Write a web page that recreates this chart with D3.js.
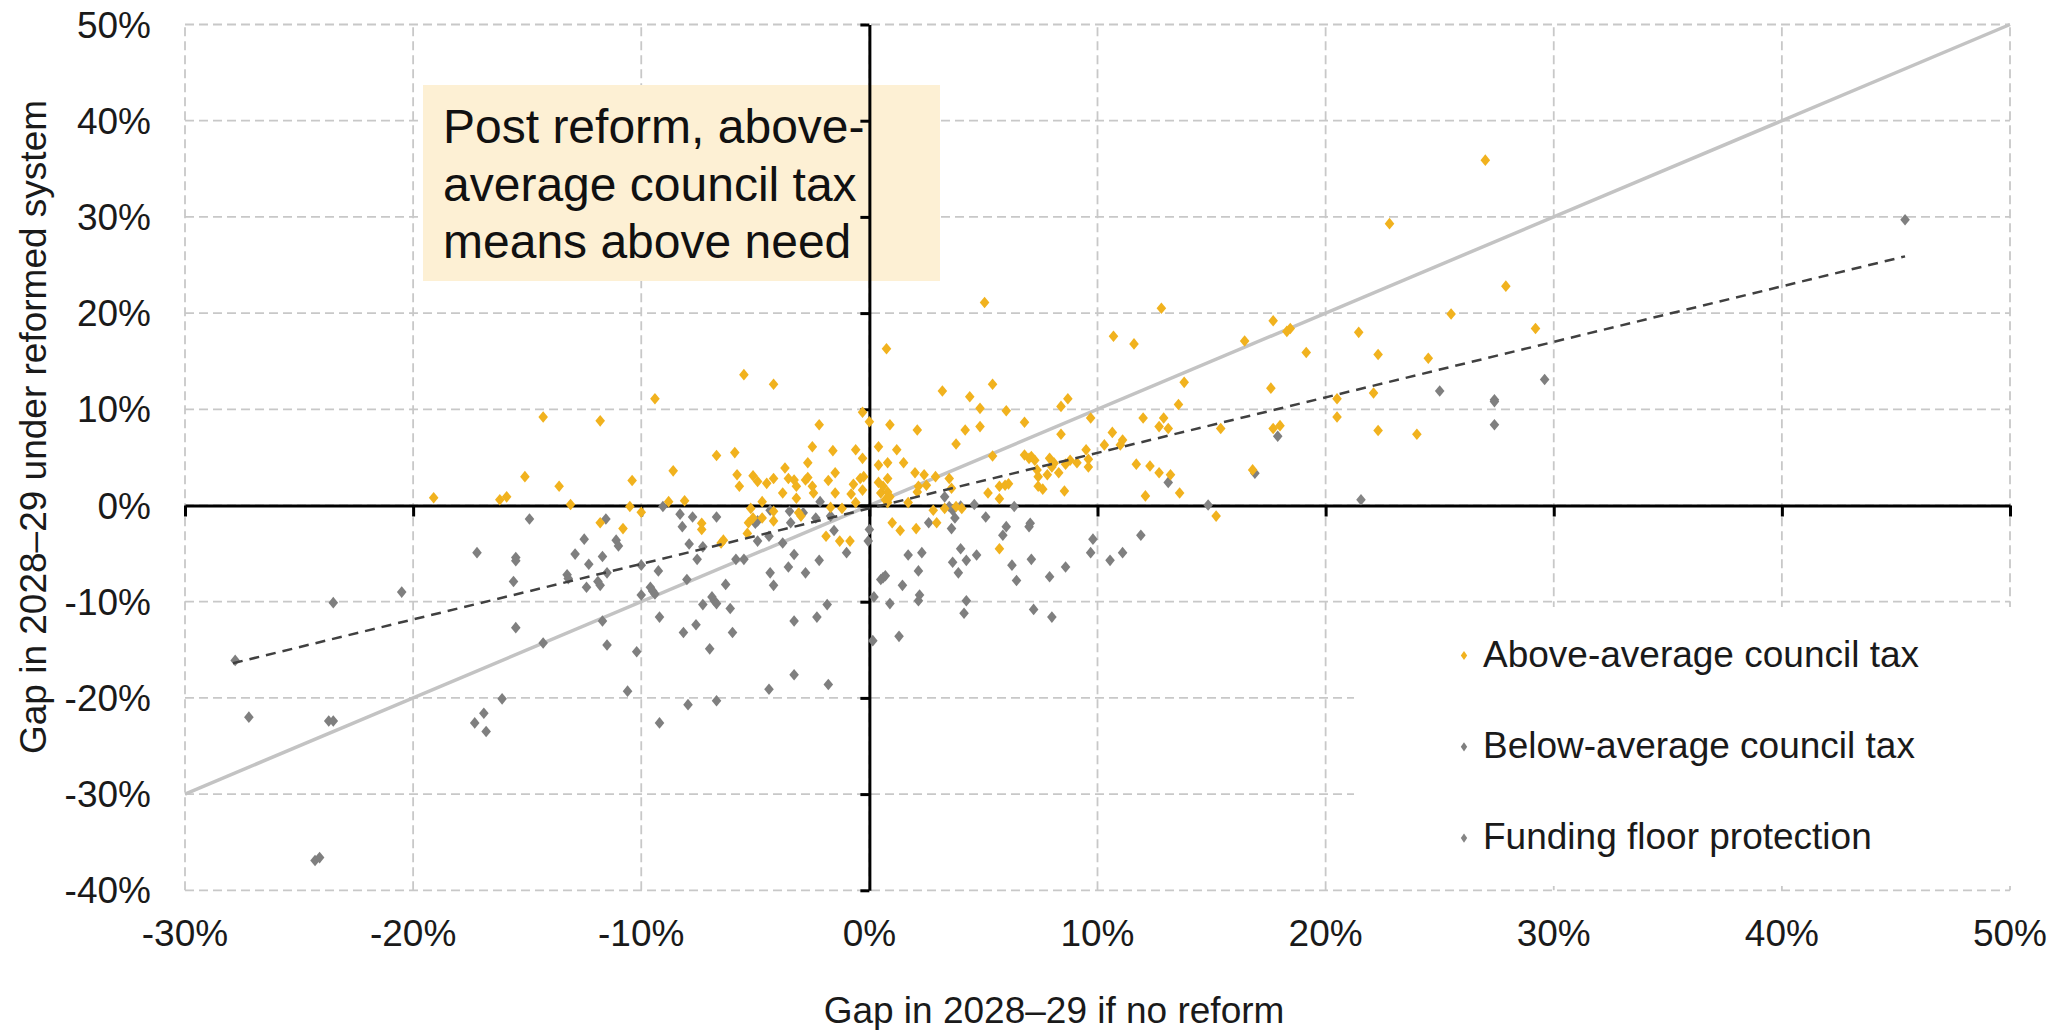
<!DOCTYPE html>
<html>
<head>
<meta charset="utf-8">
<script src="https://cdn.jsdelivr.net/npm/d3@7"></script>
<style>
  html, body { margin: 0; padding: 0; background: #fff; }
  svg { display: block; }
  text { font-family: "Liberation Sans", Arial, sans-serif; }
</style>
</head>
<body>
<svg id="chart" width="2060" height="1030"></svg>
<script>
// ---------------- DATA ----------------
const xTicks = [-30, -20, -10, 0, 10, 20, 30, 40, 50];
const yTicks = [-40, -30, -20, -10, 0, 10, 20, 30, 40, 50];
const xTitle = "Gap in 2028\u201329 if no reform";
const yTitle = "Gap in 2028\u201329 under reformed system";
const annotationLines = ["Post reform, above-", "average council tax", "means above need"];
const seriesNames = ["Above-average council tax", "Below-average council tax", "Funding floor protection"];

// [gap if no reform %, gap under reformed system %]
const aboveAverage = [
  [-19.1,0.8],[-16.2,0.6],[-15.9,0.9],[-15.1,3.0],[-14.3,9.2],[-13.6,2.0],[-13.1,0.1],[-11.8,8.8],
  [-11.8,-1.8],[-10.8,-2.4],[-10.4,2.6],[-10.5,-0.1],[-10.0,-0.7],[-9.4,11.1],[-8.6,3.6],[-8.8,0.4],
  [-8.1,0.5],[-7.35,-1.85],[-7.35,-2.5],[-6.5,-3.9],[-6.4,-3.6],[-6.7,5.2],[-5.9,5.5],[-5.5,13.6],
  [-5.8,3.2],[-5.7,2.0],[-5.2,-0.3],[-5.3,-1.8],[-5.1,-1.3],[-5.35,-2.9],[-5.1,3.1],[-4.9,2.5],
  [-4.7,0.4],[-4.7,-1.3],[-4.5,2.3],[-4.2,2.8],[-4.2,12.6],[-4.2,-1.6],[-4.2,-0.6],[-3.7,3.9],
  [-3.8,1.3],[-3.55,2.8],[-3.3,2.65],[-3.2,2.0],[-3.2,0.75],[-3.1,-0.75],[-3.0,-1.1],[-2.8,2.65],
  [-2.7,2.9],[-2.7,4.45],[-2.5,6.1],[-2.5,2.0],[-2.45,1.3],[-2.2,8.4],[-1.9,-3.2],[-1.8,2.6],
  [-1.7,-0.2],[-1.6,5.7],[-1.5,3.4],[-1.5,1.3],[-1.3,-3.7],[-1.2,-0.3],[-0.85,-3.7],[-0.8,1.2],
  [-0.7,2.2],[-0.6,5.8],[-0.6,0.3],[-0.4,2.8],[-0.3,9.7],[-0.3,4.9],[-0.3,1.6],[-0.25,3.0],
  [0.0,8.7],[0.4,6.1],[0.4,4.2],[0.4,2.4],[0.5,1.3],[0.6,2.0],[0.7,0.6],[0.75,16.3],
  [0.8,1.4],[0.8,4.45],[0.8,2.8],[0.8,0.3],[0.9,8.4],[0.9,0.9],[1.0,-1.8],[1.2,5.8],
  [1.35,-2.6],[1.5,4.45],[1.7,0.3],[2.0,3.4],[2.05,-2.4],[2.1,1.4],[2.15,2.0],[2.1,7.85],
  [2.4,3.2],[2.5,2.1],[2.8,-0.5],[2.9,3.0],[2.95,-1.8],[3.2,11.9],[3.3,-0.3],[3.5,2.8],
  [3.6,1.8],[3.8,6.4],[3.8,-0.1],[4.05,-0.3],[4.2,7.85],[4.4,11.3],[4.85,10.1],[4.85,8.2],
  [5.05,21.1],[5.2,1.3],[5.4,12.6],[5.4,5.15],[5.7,2.0],[5.7,0.7],[5.7,-4.5],[5.95,2.1],
  [6.0,9.85],[6.1,2.25],[6.8,8.65],[6.8,5.25],[7.0,4.9],[7.1,5.1],[7.25,4.7],[7.35,3.7],
  [7.4,3.0],[7.4,2.0],[7.6,1.7],[7.8,3.2],[7.9,4.9],[8.0,4.0],[8.1,4.4],[8.3,3.4],
  [8.4,7.4],[8.4,10.3],[8.55,1.5],[8.6,4.3],[8.7,11.1],[8.8,4.7],[9.1,4.45],[9.5,5.8],
  [9.6,4.8],[9.6,4.0],[9.7,9.1],[10.3,6.3],[10.65,7.6],[10.7,17.6],[11.0,6.3],[11.1,6.8],
  [11.6,16.8],[11.7,4.3],[12.0,9.1],[12.1,1.0],[12.3,4.1],[12.7,8.2],[12.7,3.4],[12.8,20.5],
  [12.9,9.1],[13.1,8.0],[13.2,3.2],[13.55,10.5],[13.6,1.3],[13.8,12.8],[15.2,-1.1],[15.4,8.0],
  [16.45,17.1],[16.8,3.7],[17.6,12.2],[17.7,19.2],[17.7,8.0],[18.0,8.3],[18.3,18.1],[18.45,18.4],
  [19.15,15.9],[20.5,11.1],[20.5,9.2],[21.45,18.0],[22.1,11.7],[22.3,15.7],[22.3,7.8],[22.8,29.3],
  [24.0,7.4],[24.5,15.3],[25.5,19.9],[27.0,35.9],[27.9,22.8],[29.2,18.4]
];

const belowAverage = [
  [-27.8,-16.1],[-27.2,-22.0],[-24.3,-36.9],[-24.1,-36.6],[-23.7,-22.4],[-23.5,-22.4],[-23.5,-10.1],[-20.5,-9.0],
  [-17.3,-22.6],[-17.2,-4.9],[-16.9,-21.6],[-16.8,-23.5],[-16.1,-20.1],[-15.6,-7.9],[-15.5,-5.4],[-15.5,-5.75],
  [-15.5,-12.7],[-14.9,-1.4],[-14.3,-14.3],[-13.25,-7.2],[-13.2,-7.6],[-12.9,-5.05],[-12.5,-3.5],[-12.4,-8.5],
  [-12.3,-6.1],[-11.9,-7.9],[-11.8,-8.3],[-11.7,-5.3],[-11.7,-12.0],[-11.55,-1.4],[-11.5,-7.0],[-11.5,-14.5],
  [-11.1,-3.6],[-11.0,-4.2],[-10.6,-19.3],[-10.2,-15.2],[-10.0,-6.2],[-10.0,-9.3],[-9.6,-8.5],[-9.5,-8.9],
  [-9.4,-9.2],[-9.25,-6.8],[-9.2,-11.6],[-9.2,-22.6],[-9.05,-0.1],[-8.3,-0.9],[-8.2,-2.2],[-8.15,-13.2],
  [-8.0,-7.7],[-7.95,-20.7],[-7.9,-4.0],[-7.75,-1.2],[-7.6,-12.4],[-7.55,-5.6],[-7.3,-4.3],[-7.3,-10.3],
  [-7.0,-14.9],[-6.9,-9.5],[-6.8,-9.9],[-6.7,-10.2],[-6.7,-1.2],[-6.7,-20.3],[-6.3,-8.2],[-6.1,-10.7],
  [-6.0,-13.2],[-5.85,-5.6],[-5.5,-5.6],[-5.0,-1.85],[-4.9,-1.6],[-4.9,-3.7],[-4.4,-19.1],[-4.4,-3.2],
  [-4.35,-7.0],[-4.35,-0.5],[-4.2,-8.3],[-3.8,-3.9],[-3.55,-6.4],[-3.5,-0.6],[-3.45,-1.8],[-3.3,-5.1],
  [-3.3,-12.0],[-3.3,-17.6],[-2.9,-0.75],[-2.8,-7.0],[-2.35,-1.3],[-2.3,-11.6],[-2.2,-5.7],[-2.16,0.4],
  [-1.85,-10.3],[-1.8,-18.6],[-1.7,-1.1],[-1.55,-2.6],[-1.0,-4.9],[0.0,-2.5],[-0.05,-3.7],[0.15,-14.05],
  [0.2,-9.5],[0.5,-7.7],[0.6,-7.5],[0.7,-7.3],[0.9,-10.2],[1.3,-13.6],[1.45,-8.3],[1.7,-5.15],
  [2.15,-6.8],[2.2,-9.3],[2.15,-9.9],[2.3,-4.9],[2.6,-1.8],[3.3,0.9],[3.65,-0.5],[3.6,-2.4],
  [3.65,-5.9],[3.75,-1.3],[3.9,-7.0],[4.0,-4.5],[4.15,-11.2],[4.25,-5.7],[4.25,-9.9],[4.7,-5.15],
  [5.1,-1.2],[5.85,-3.1],[6.0,-2.2],[6.25,-6.2],[6.45,-7.8],[7.0,-2.2],[7.05,-1.85],[7.1,-5.6],
  [7.2,-10.8],[7.9,-7.4],[8.0,-11.6],[8.6,-6.4],[9.7,-4.9],[9.8,-3.5],[10.55,-5.7],[11.1,-4.9],
  [11.9,-3.1],[13.1,2.4],[16.9,3.35],[17.9,7.2],[25.0,11.9],[27.4,11.0],[27.4,10.8],[27.4,8.4],
  [29.6,13.1],[45.4,29.7]
];

const fundingFloor = [
  [3.5,-0.1],[4.0,-0.05],[4.6,0.1],[6.35,-0.1],[14.85,0.05],[21.55,0.6]
];

// equality line and linear trend line end points
const equalityLine = [[-30,-30],[50,50]];
const trendLine = [[-27.9,-16.4],[45.4,25.9]];

// ---------------- CHART ----------------
const svg = d3.select("#chart");
const plotLeft = 185, plotRight = 2010, plotTop = 24.5, plotBottom = 890.3;

const x = d3.scaleLinear().domain([-30, 50]).range([plotLeft, plotRight]);
const y = d3.scaleLinear().domain([-40, 50]).range([plotBottom, plotTop]);

const orange = "#F1B21E";
const grey = "#7F7F7F";
const greyFloor = "#858585";
const fontSmall = 37;

// gridlines
const grid = svg.append("g");
grid.selectAll("line.v").data(xTicks).enter().append("line").attr("class", "v")
  .attr("x1", d => x(d)).attr("x2", d => x(d))
  .attr("y1", y(-40)).attr("y2", y(50))
  .attr("stroke", "#c8c8c8").attr("stroke-width", 1.8).attr("stroke-dasharray", "9,5");
grid.selectAll("line.h").data(yTicks).enter().append("line").attr("class", "h")
  .attr("x1", x(-30)).attr("x2", x(50))
  .attr("y1", d => y(d)).attr("y2", d => y(d))
  .attr("stroke", "#c8c8c8").attr("stroke-width", 1.8).attr("stroke-dasharray", "9,5");

// annotation box
svg.append("rect").attr("x", 423).attr("y", 85).attr("width", 517).attr("height", 196)
  .attr("fill", "#FDF0D4");
svg.append("g").selectAll("text").data(annotationLines).enter().append("text")
  .attr("x", 443).attr("y", (d, i) => 143 + i * 57.5)
  .attr("font-size", 48).attr("fill", "#111").text(d => d);

// legend background
svg.append("rect").attr("x", 1354).attr("y", 607).attr("width", 662).attr("height", 279)
  .attr("fill", "#fff");

// equality line
const line = d3.line().x(d => x(d[0])).y(d => y(d[1]));
svg.append("path").datum(equalityLine).attr("d", line)
  .attr("fill", "none").attr("stroke", "#c3c3c3").attr("stroke-width", 3.5);

// axes
const xAxis = d3.axisBottom(x).tickValues(xTicks).tickSize(11).tickSizeOuter(0).tickFormat("");
const gx = svg.append("g").attr("transform", `translate(0,${y(0)})`).call(xAxis);
gx.select(".domain").attr("stroke", "#000").attr("stroke-width", 3);
gx.selectAll(".tick line").attr("stroke", "#000").attr("stroke-width", 3);

const yAxis = d3.axisLeft(y).tickValues(yTicks).tickSize(9).tickSizeOuter(0).tickFormat("");
const gy = svg.append("g").attr("transform", `translate(${x(0)},0)`).call(yAxis);
gy.select(".domain").attr("stroke", "#000").attr("stroke-width", 3);
gy.selectAll(".tick line").attr("stroke", "#000").attr("stroke-width", 3);

// tick labels
svg.append("g").selectAll("text").data(xTicks).enter().append("text")
  .attr("x", d => x(d)).attr("y", 946).attr("text-anchor", "middle")
  .attr("font-size", fontSmall).attr("fill", "#1a1a1a").text(d => d + "%");
svg.append("g").selectAll("text").data(yTicks).enter().append("text")
  .attr("x", 151).attr("y", d => y(d) + 13).attr("text-anchor", "end")
  .attr("font-size", fontSmall).attr("fill", "#1a1a1a").text(d => d + "%");

// axis titles
svg.append("text").attr("x", 1054).attr("y", 1023).attr("text-anchor", "middle")
  .attr("font-size", fontSmall).attr("fill", "#1a1a1a").text(xTitle);
svg.append("text").attr("transform", "translate(46,427) rotate(-90)").attr("text-anchor", "middle")
  .attr("font-size", fontSmall).attr("fill", "#1a1a1a").text(yTitle);

// points
const diamond = (hw, hh) => `M0,${-hh}L${hw},0L0,${hh}L${-hw},0Z`;
function drawSeries(data, color) {
  svg.append("g").selectAll("path").data(data).enter().append("path")
    .attr("d", diamond(4.8, 5.8))
    .attr("transform", d => `translate(${x(d[0])},${y(d[1])})`)
    .attr("fill", color);
}
drawSeries(belowAverage, grey);
drawSeries(fundingFloor, greyFloor);
drawSeries(aboveAverage, orange);

// trend line
svg.append("path").datum(trendLine).attr("d", line)
  .attr("fill", "none").attr("stroke", "#404040").attr("stroke-width", 2.5)
  .attr("stroke-dasharray", "10,7");

// legend
const legendColors = [orange, grey, greyFloor];
const lg = svg.append("g").selectAll("g").data(seriesNames).enter().append("g")
  .attr("transform", (d, i) => `translate(1464,${655.5 + i * 91.3})`);
lg.append("path").attr("d", diamond(3.2, 4.6)).attr("fill", (d, i) => legendColors[i]);
lg.append("text").attr("x", 19).attr("y", 11).attr("font-size", fontSmall)
  .attr("fill", "#1a1a1a").text(d => d);
</script>
</body>
</html>
